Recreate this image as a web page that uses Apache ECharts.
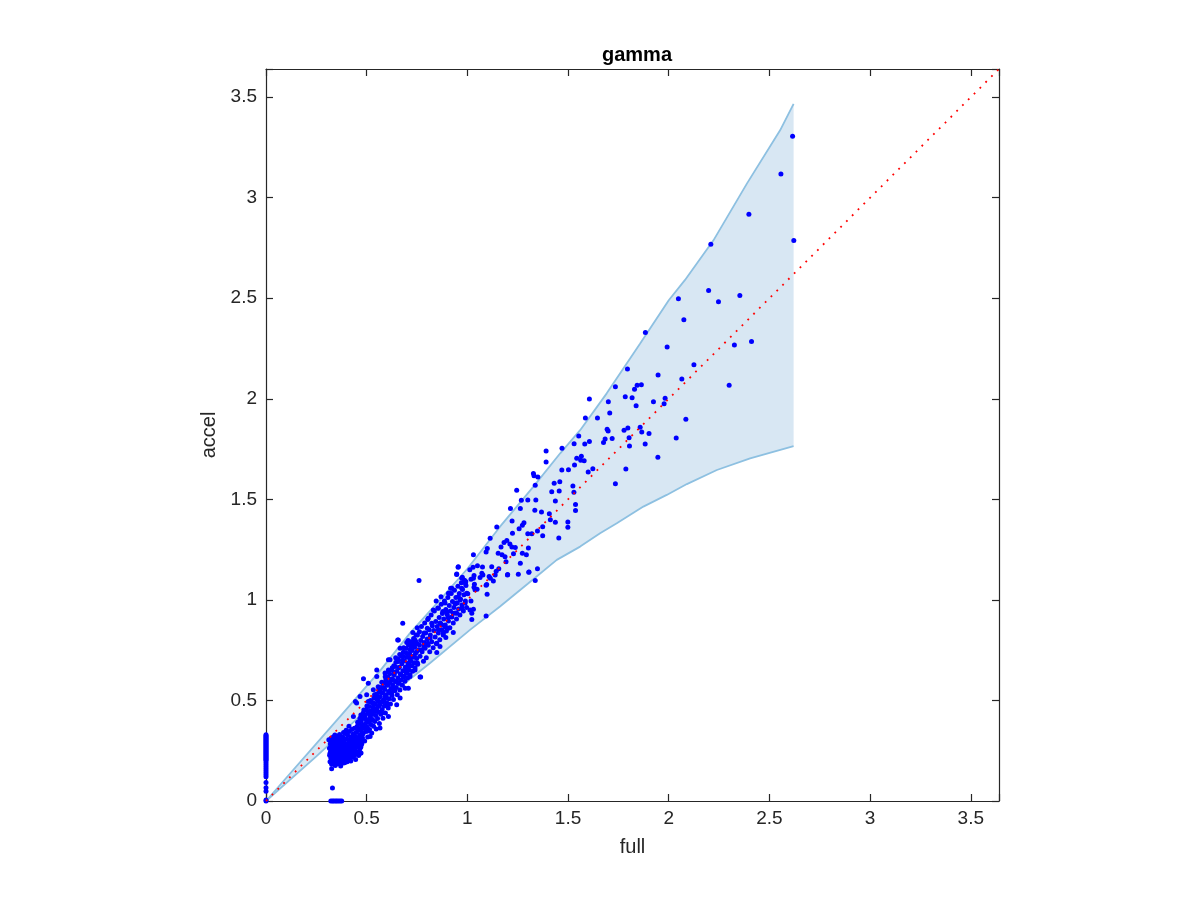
<!DOCTYPE html>
<html><head><meta charset="utf-8">
<script src="https://cdn.jsdelivr.net/npm/echarts@6/dist/echarts.min.js"></script>
<style>html,body{margin:0;padding:0;background:#fff}#c{width:1200px;height:900px}</style>
</head><body><div id="c"></div>
<script>
// ---- axes ----
const axisMin = 0, axisMax = 3.64, tickStep = 0.5;
const tickLabels = ['0','0.5','1','1.5','2','2.5','3','3.5'];
const chartTitle = 'gamma', xName = 'full', yName = 'accel';

// ---- band edges ----
const bandUpper = [[0,0],[0.35,0.40],[0.57,0.652],[0.715,0.835],[0.864,1.0],[1.0,1.155],[1.162,1.364],[1.328,1.563],[1.461,1.729],[1.56,1.844],[1.692,2.027],[1.858,2.275],[2.0,2.49],[2.08,2.59],[2.222,2.788],[2.388,3.07],[2.553,3.335],[2.62,3.467]];
const bandLower = [[0,0],[0.25,0.222],[0.483,0.437],[0.649,0.553],[0.815,0.686],[1.013,0.851],[1.162,0.967],[1.30,1.08],[1.444,1.199],[1.56,1.265],[1.659,1.331],[1.742,1.381],[1.874,1.464],[1.99,1.522],[2.09,1.576],[2.239,1.646],[2.404,1.704],[2.62,1.765]];

// ---- identity reference ----
const refLine = [[0,0],[3.64,3.64]];

// ---- points ----
const zeroStripY = [0,0.005,0.048,0.066,0.092,0.12,0.13,0.14,0.15,0.16,0.17,0.18,0.19,0.20,0.205,0.21,0.215,0.22,0.225,0.23,0.235,0.24,0.245,0.25,0.255,0.26,0.265,0.27,0.275,0.28,0.285,0.29,0.295,0.30,0.305,0.31,0.315,0.32,0.325,0.33];
const zeroBaseX = [0.322,0.330,0.337,0.345,0.352,0.360,0.368,0.376];
const lowOutliers = [[0.330,0.065],[0.326,0.160]];
const clusterPts = [[0.312,0.305],[0.315,0.262],[0.316,0.228],[0.318,0.195],[0.319,0.285],[0.321,0.248],[0.322,0.214],[0.324,0.312],[0.325,0.272],[0.326,0.183],[0.327,0.238],[0.329,0.296],[0.330,0.205],[0.331,0.258],[0.333,0.225],[0.334,0.318],[0.335,0.282],[0.336,0.192],[0.338,0.244],[0.339,0.268],[0.340,0.211],[0.341,0.301],[0.343,0.232],[0.344,0.176],[0.345,0.287],[0.346,0.252],[0.348,0.219],[0.349,0.315],[0.350,0.199],[0.351,0.265],[0.353,0.241],[0.354,0.293],[0.355,0.185],[0.357,0.227],[0.358,0.275],[0.359,0.208],[0.361,0.322],[0.362,0.256],[0.363,0.236],[0.365,0.196],[0.366,0.283],[0.367,0.218],[0.369,0.305],[0.370,0.247],[0.371,0.174],[0.373,0.268],[0.374,0.229],[0.376,0.292],[0.377,0.203],[0.378,0.257],[0.380,0.238],[0.381,0.318],[0.383,0.213],[0.384,0.276],[0.386,0.189],[0.387,0.248],[0.388,0.299],[0.390,0.226],[0.391,0.262],[0.393,0.336],[0.394,0.205],[0.395,0.284],[0.397,0.241],[0.398,0.219],[0.400,0.309],[0.401,0.267],[0.403,0.195],[0.404,0.252],[0.405,0.328],[0.407,0.233],[0.408,0.289],[0.410,0.212],[0.411,0.274],[0.413,0.345],[0.414,0.246],[0.416,0.302],[0.417,0.225],[0.419,0.263],[0.420,0.318],[0.421,0.199],[0.423,0.281],[0.424,0.239],[0.426,0.355],[0.427,0.256],[0.429,0.296],[0.430,0.217],[0.432,0.333],[0.433,0.272],[0.435,0.248],[0.436,0.307],[0.438,0.229],[0.439,0.362],[0.441,0.286],[0.442,0.262],[0.444,0.321],[0.445,0.206],[0.447,0.341],[0.448,0.276],[0.450,0.298],[0.452,0.245],[0.453,0.372],[0.455,0.314],[0.456,0.268],[0.458,0.350],[0.460,0.226],[0.461,0.291],[0.463,0.385],[0.465,0.328],[0.466,0.258],[0.468,0.305],[0.470,0.362],[0.472,0.239],[0.473,0.398],[0.475,0.282],[0.477,0.342],[0.479,0.315],[0.481,0.376],[0.434,0.420],[0.467,0.404],[0.467,0.238],[0.450,0.487],[0.444,0.495],[0.467,0.412],[0.483,0.437],[0.517,0.412],[0.467,0.520],[0.500,0.528],[0.517,0.321],[0.566,0.363],
[0.342,0.328],[0.352,0.312],[0.365,0.331],[0.385,0.341],[0.398,0.352],[0.412,0.372],[0.318,0.238],[0.323,0.275],[0.332,0.188],[0.347,0.205],[0.356,0.262],[0.368,0.188],[0.379,0.222],[0.392,0.192],[0.406,0.218],[0.418,0.238],[0.431,0.252],[0.446,0.232],[0.459,0.282],[0.471,0.268],[0.482,0.298]];
const diagPts = [[0.482,0.335],[0.485,0.412],[0.487,0.362],[0.49,0.298],[0.492,0.428],[0.494,0.385],[0.496,0.345],[0.498,0.452],[0.5,0.402],[0.502,0.368],[0.505,0.318],[0.507,0.435],[0.509,0.392],[0.511,0.47],[0.514,0.355],[0.516,0.418],[0.518,0.448],[0.52,0.381],[0.523,0.49],[0.525,0.338],[0.527,0.43],[0.529,0.405],[0.531,0.468],[0.534,0.372],[0.536,0.512],[0.538,0.445],[0.54,0.395],[0.543,0.482],[0.545,0.425],[0.547,0.358],[0.549,0.532],[0.552,0.462],[0.554,0.41],[0.556,0.498],[0.558,0.442],[0.561,0.552],[0.563,0.385],[0.565,0.478],[0.567,0.518],[0.57,0.432],[0.572,0.565],[0.574,0.495],[0.577,0.455],[0.579,0.538],[0.581,0.412],[0.583,0.585],[0.586,0.505],[0.588,0.472],[0.59,0.555],[0.593,0.438],[0.595,0.602],[0.597,0.528],[0.6,0.488],[0.602,0.575],[0.604,0.615],[0.607,0.462],[0.609,0.545],[0.611,0.508],[0.614,0.632],[0.616,0.592],[0.618,0.482],[0.621,0.56],[0.623,0.652],[0.626,0.525],[0.628,0.608],[0.63,0.578],[0.633,0.505],[0.635,0.672],[0.637,0.628],[0.64,0.548],[0.642,0.595],[0.645,0.69],[0.647,0.565],[0.65,0.645],[0.652,0.528],[0.655,0.612],[0.657,0.705],[0.66,0.585],[0.662,0.665],[0.665,0.552],[0.667,0.632],[0.67,0.722],[0.672,0.602],[0.675,0.682],[0.677,0.575],[0.68,0.648],[0.682,0.74],[0.685,0.618],[0.687,0.698],[0.69,0.595],[0.692,0.665],[0.695,0.758],[0.697,0.635],[0.70,0.715],[0.703,0.612],[0.705,0.682],[0.708,0.775],[0.71,0.652],[0.713,0.732],[0.715,0.628],[0.718,0.698],[0.72,0.792],[0.723,0.672],[0.725,0.748],[0.728,0.645],[0.73,0.715],[0.733,0.808],[0.735,0.688],[0.738,0.765],[0.74,0.662],[0.743,0.735],[0.745,0.825],[0.748,0.708],[0.75,0.782],[0.753,0.68],
[0.484,0.608],[0.679,0.884],[0.654,0.801],[0.608,0.702],[0.765,0.616],[0.707,0.561],[0.666,0.512],[0.649,0.478],[0.600,0.478],[0.566,0.487],[0.508,0.495],[0.533,0.454],[0.575,0.437],[0.608,0.420],[0.550,0.520],[0.591,0.520],[0.624,0.537],[0.566,0.553],[0.533,0.553],[0.508,0.586],[0.583,0.586],[0.608,0.578],[0.657,0.586],[0.691,0.561],[0.624,0.603],[0.550,0.619],[0.550,0.652],[0.591,0.636],[0.608,0.652],[0.616,0.702],[0.641,0.669],[0.657,0.694],[0.682,0.619],[0.699,0.636],[0.715,0.619],[0.768,0.616],[0.707,0.669],[0.740,0.652],[0.752,0.686],[0.715,0.710],[0.682,0.718],[0.666,0.760],[0.657,0.801],[0.715,0.752],[0.749,0.743],[0.773,0.752],[0.699,0.788],[0.729,0.781],[0.762,0.776],[0.740,0.801],[0.752,0.826],
[0.455,0.392],[0.462,0.356],[0.471,0.428],[0.478,0.375],[0.486,0.452],[0.493,0.41],[0.501,0.472],[0.506,0.348],[0.512,0.442],[0.519,0.5],[0.526,0.402],[0.532,0.488],[0.539,0.528],[0.544,0.448],[0.551,0.505],[0.557,0.568],[0.562,0.472],[0.568,0.54],[0.575,0.59],[0.58,0.492],[0.587,0.562],[0.592,0.618],[0.598,0.512],[0.603,0.588],[0.61,0.642],[0.615,0.538],[0.622,0.605],[0.627,0.662],[0.632,0.558],[0.638,0.64],[0.644,0.712],[0.651,0.592],[0.658,0.662],[0.664,0.728],[0.671,0.628],[0.678,0.7],[0.684,0.762],[0.691,0.648],[0.698,0.735],[0.706,0.798],[0.712,0.69],[0.721,0.768],[0.729,0.838],[0.736,0.722],[0.744,0.792],[0.751,0.862]];
const midPts = [[0.758,0.752],[0.762,0.842],[0.765,0.72],[0.768,0.798],[0.772,0.868],[0.775,0.742],[0.778,0.818],[0.782,0.695],[0.785,0.788],[0.788,0.885],[0.79,0.76],[0.793,0.835],[0.796,0.712],[0.8,0.805],[0.803,0.902],[0.806,0.775],[0.81,0.852],[0.813,0.742],[0.816,0.825],[0.82,0.925],[0.823,0.792],[0.826,0.872],[0.83,0.762],[0.833,0.848],[0.836,0.945],[0.84,0.815],[0.843,0.892],[0.846,0.782],[0.85,0.868],[0.853,0.96],[0.856,0.835],[0.86,0.912],[0.863,0.802],[0.866,0.885],[0.87,0.978],[0.873,0.852],[0.876,0.932],[0.88,0.825],[0.883,0.905],[0.886,0.995],[0.89,0.875],[0.893,0.952],[0.896,0.845],[0.9,0.928],[0.903,1.012],[0.906,0.895],[0.91,0.972],[0.913,0.862],[0.916,0.945],[0.92,1.032],[0.923,0.915],[0.926,0.992],[0.93,0.885],[0.933,0.962],[0.936,1.048],[0.94,0.935],[0.943,1.012],[0.946,0.905],[0.95,0.985],[0.953,1.068],[0.956,0.955],[0.96,1.032],[0.963,0.925],[0.966,1.005],[0.97,1.085],[0.973,0.975],[0.976,1.052],[0.98,0.945],[0.983,1.025],[0.986,1.098],[0.99,0.995],[0.993,1.072],[0.996,0.962],
[0.785,0.835],[0.801,0.859],[0.815,0.810],[0.848,0.785],[0.848,0.738],[0.803,0.785],[0.785,0.771],[0.806,0.909],[0.823,0.884],[0.864,0.884],[0.856,0.851],[0.831,0.950],[0.856,0.959],[0.845,0.995],[0.760,1.096],[0.889,0.867],[0.898,0.942],[0.947,0.934],[1.030,0.954],[1.018,0.995],[0.989,0.984],[0.939,0.980],[0.889,0.984],[0.869,1.016],[0.909,1.033],[0.955,1.016],[0.972,1.058],[1.002,1.030],[1.048,1.053],[1.096,1.076],[1.129,1.094],[1.077,1.124],[1.030,1.108],[0.992,1.091],[0.917,1.058],[0.906,1.033],[0.923,1.058],[0.947,1.129],[0.955,1.165],[0.975,1.113],[1.033,1.063],[0.997,1.033],[0.964,1.0],[0.944,0.984],[0.878,0.942],[0.930,0.934],[1.022,0.934],[1.013,0.950],[0.972,0.959],[0.904,0.914],[0.873,0.876],[0.904,0.859],[0.881,0.835],[1.093,0.920],[1.022,0.902],[0.930,0.838],[0.893,0.813],[0.864,0.768]];
const upperPts = [[1.030,1.225],[0.954,1.162],[0.947,1.126],[0.972,1.108],[0.990,1.083],[1.012,1.150],[1.018,1.103],[1.028,1.162],[1.033,1.121],[1.035,1.078],[1.038,1.050],[1.050,1.170],[1.063,1.111],[1.072,1.133],[1.075,1.164],[1.093,1.073],[1.098,1.028],[1.108,1.116],[1.114,1.108],[1.121,1.165],[1.138,1.124],[1.143,1.143],[1.156,1.155],[1.099,1.255],[1.093,1.238],[1.113,1.306],[1.146,1.363],[1.153,1.232],[1.167,1.263],[1.172,1.224],[1.182,1.285],[1.187,1.215],[1.192,1.190],[1.196,1.295],[1.199,1.124],[1.200,1.126],[1.211,1.278],[1.214,1.454],[1.221,1.263],[1.222,1.392],[1.224,1.331],[1.229,1.229],[1.238,1.260],[1.245,1.545],[1.253,1.128],[1.257,1.354],[1.263,1.455],[1.263,1.182],[1.268,1.495],[1.273,1.371],[1.273,1.232],[1.281,1.384],[1.293,1.225],[1.300,1.497],[1.300,1.329],[1.303,1.258],[1.305,1.138],[1.306,1.139],[1.320,1.329],[1.328,1.629],[1.331,1.617],[1.335,1.446],[1.337,1.570],[1.337,1.096],[1.340,1.497],[1.348,1.343],[1.348,1.155],[1.350,1.611],[1.368,1.437],[1.374,1.364],[1.374,1.319],[1.391,1.740],[1.391,1.686],[1.407,1.429],[1.412,1.399],[1.419,1.538],[1.431,1.580],[1.437,1.492],[1.437,1.386],[1.454,1.308],[1.456,1.541],[1.459,1.588],[1.469,1.646],[1.470,1.754],[1.499,1.387],[1.499,1.361],[1.502,1.647],[1.524,1.566],[1.529,1.535],[1.530,1.776],[1.532,1.671],[1.537,1.475],[1.537,1.444],[1.543,1.705],[1.553,1.815],[1.563,1.694],[1.566,1.714],[1.580,1.692],[1.583,1.775],[1.586,1.904],[1.600,1.636],[1.606,1.999],[1.606,1.788],[1.623,1.652],[1.646,1.904],[1.676,1.783],[1.684,1.800],[1.694,1.849],[1.699,1.840],[1.700,1.985],[1.707,1.929],[1.719,1.803],[1.735,2.060],[1.735,1.578],[1.778,1.843],[1.784,2.010],[1.787,1.651],[1.795,2.148],[1.797,1.855],[1.803,1.806],[1.805,1.765],[1.818,2.005],[1.830,2.047],[1.838,1.965],[1.843,2.068],[1.858,1.858],[1.864,2.070],[1.866,1.835],[1.883,1.775],[1.884,2.330],[1.902,1.828],[1.924,1.985],[1.946,1.709],[1.947,2.118],[1.977,1.975],[1.982,2.003],[1.992,2.257],[2.037,1.805],[2.048,2.497],[2.065,2.098],[2.075,2.393],[2.085,1.898],[2.125,2.169],[2.198,2.538],[2.209,2.768],[2.247,2.482],[2.300,2.067],[2.326,2.267],[2.353,2.514],[2.398,2.918],[2.411,2.285],[2.557,3.118],[2.615,3.305],[2.621,2.787]];

const scatterData = []
  .concat(zeroStripY.map(y => [0, y]))
  .concat(zeroBaseX.map(x => [x, 0]))
  .concat(lowOutliers, clusterPts, diagPts, midPts, upperPts);

const txt = '#262626';
const font = 'Liberation Sans, Arial, Helvetica, sans-serif';
const fmt = v => {
  const i = Math.round(v / tickStep);
  return Math.abs(v - i * tickStep) < 1e-6 ? (tickLabels[i] || '') : '';
};
function axisBase(pos, showLabel) {
  return {
    type: 'value', min: axisMin, max: axisMax, interval: tickStep, position: pos,
    axisLine: { show: true, onZero: false, lineStyle: { color: txt, width: 1.2 } },
    axisTick: { show: true, inside: true, length: 7, lineStyle: { color: txt, width: 1.2 } },
    axisLabel: { show: showLabel, formatter: fmt, color: txt, fontSize: 19, fontFamily: font, margin: 8 },
    splitLine: { show: false }
  };
}
const xMain = Object.assign(axisBase('bottom', true), { name: xName, nameLocation: 'middle', nameGap: 36, nameTextStyle: { color: txt, fontSize: 20, fontFamily: font } });
const yMain = Object.assign(axisBase('left', true), { name: yName, nameLocation: 'middle', nameGap: 46, nameTextStyle: { color: txt, fontSize: 20, fontFamily: font } });
yMain.axisLabel.margin = 9;

const chart = echarts.init(document.getElementById('c'), null, { renderer: 'canvas' });
chart.setOption({
  backgroundColor: '#fff',
  animation: false,
  title: { text: chartTitle, left: 632, top: 40, textAlign: 'center', textStyle: { fontSize: 20, fontWeight: 'bold', color: '#000', fontFamily: font } },
  grid: { left: 266, right: 201, top: 69, bottom: 99 },
  xAxis: [xMain, axisBase('top', false)],
  yAxis: [yMain, axisBase('right', false)],
  series: [
    {
      type: 'custom', z: 1, silent: true, data: [[0, 0]],
      renderItem: function (params, api) {
        const pts = bandUpper.map(p => api.coord(p)).concat(bandLower.slice().reverse().map(p => api.coord(p)));
        return { type: 'polygon', shape: { points: pts }, style: { fill: '#d8e7f3', stroke: null } };
      }
    },
    { type: 'line', z: 2, data: bandUpper, showSymbol: false, silent: true, lineStyle: { color: '#8dc0e1', width: 1.8 } },
    { type: 'line', z: 2, data: bandLower, showSymbol: false, silent: true, lineStyle: { color: '#8dc0e1', width: 1.8 } },
    { type: 'scatter', z: 3, data: scatterData, symbolSize: 5, itemStyle: { color: '#0000ff', opacity: 1 }, silent: true },
    { type: 'line', z: 4, data: refLine, showSymbol: false, silent: true, lineStyle: { color: '#ff0000', width: 1.8, type: [1.8, 6.4] } }
  ]
});
</script></body></html>
